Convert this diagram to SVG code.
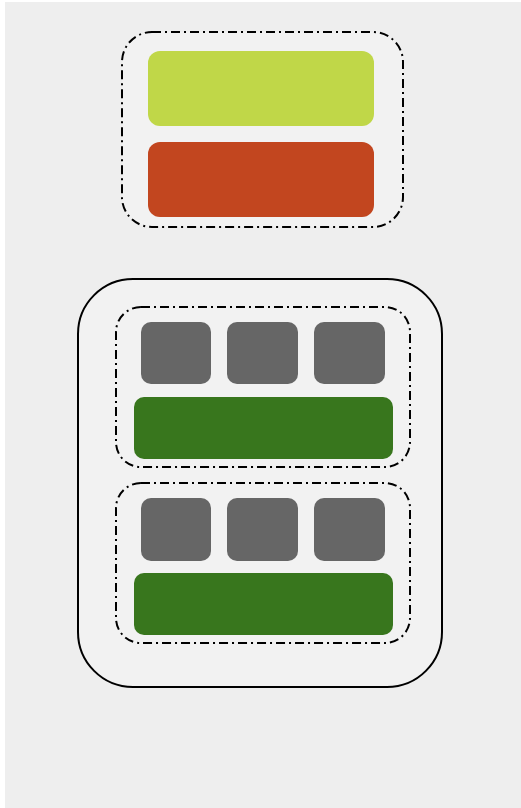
<svg xmlns="http://www.w3.org/2000/svg" width="521" height="808" viewBox="0 0 521 808">
<style>
.grp{fill:#f2f2f2;stroke:#000;stroke-width:2;stroke-dasharray:9 4 2 4}
.sq{fill:#666666}
.gr{fill:#38761d}
</style>
<rect x="0" y="0" width="521" height="808" fill="#ffffff"/>
<rect x="5" y="2" width="516" height="806" fill="#eeeeee"/>
<g id="top-group">
<rect class="grp" x="122" y="32" width="281" height="195" rx="30"/>
<rect id="lime" x="148" y="51" width="226" height="75" rx="12" fill="#c0d748"/>
<rect id="orange" x="148" y="142" width="226" height="75" rx="12" fill="#c2461f"/>
</g>
<g id="outer">
<rect x="78" y="279" width="364" height="408" rx="55" fill="#f2f2f2" stroke="#000" stroke-width="2"/>
</g>
<g id="group1">
<rect class="grp" x="116" y="307" width="294" height="160" rx="25"/>
<rect class="sq" x="141" y="322" width="70" height="62" rx="10"/>
<rect class="sq" x="227" y="322" width="71" height="62" rx="10"/>
<rect class="sq" x="314" y="322" width="71" height="62" rx="10"/>
<rect class="gr" x="134" y="397" width="259" height="62" rx="10"/>
</g>
<g id="group2">
<rect class="grp" x="116" y="483" width="294" height="160" rx="25"/>
<rect class="sq" x="141" y="498" width="70" height="63" rx="10"/>
<rect class="sq" x="227" y="498" width="71" height="63" rx="10"/>
<rect class="sq" x="314" y="498" width="71" height="63" rx="10"/>
<rect class="gr" x="134" y="573" width="259" height="62" rx="10"/>
</g>
<g id="connectors"></g>
</svg>
